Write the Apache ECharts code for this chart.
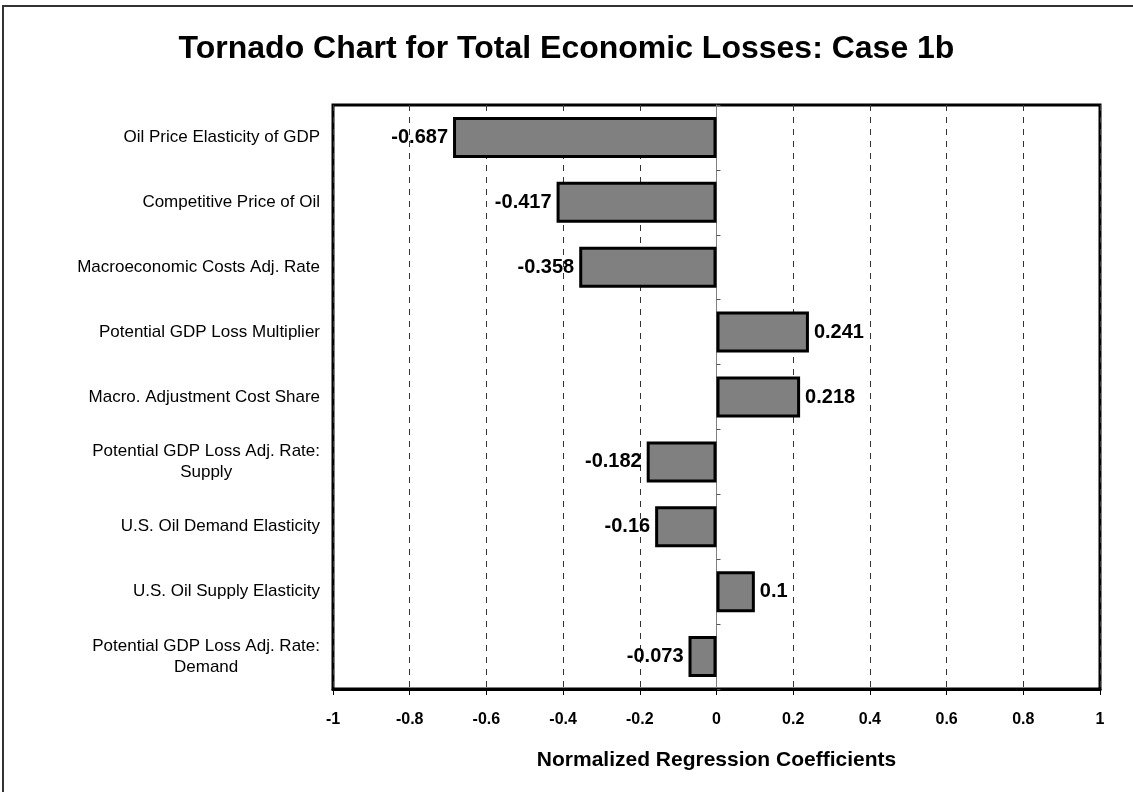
<!DOCTYPE html>
<html>
<head>
<meta charset="utf-8">
<script src="https://cdn.jsdelivr.net/npm/echarts@6/dist/echarts.min.js"></script>
<style>html,body{margin:0;padding:0;background:#fff}#c{width:1133px;height:792px}</style>
</head>
<body>
<div id="c"></div>
<script>
var categories = [
  "Oil Price Elasticity of GDP",
  "Competitive Price of Oil",
  "Macroeconomic Costs Adj. Rate",
  "Potential GDP Loss Multiplier",
  "Macro. Adjustment Cost Share",
  "Potential GDP Loss Adj. Rate:\nSupply",
  "U.S. Oil Demand Elasticity",
  "U.S. Oil Supply Elasticity",
  "Potential GDP Loss Adj. Rate:\nDemand"
];
var values = [-0.687, -0.417, -0.358, 0.241, 0.218, -0.182, -0.16, 0.1, -0.073];
var xTicks = [-1, -0.8, -0.6, -0.4, -0.2, 0, 0.2, 0.4, 0.6, 0.8, 1];

var FONT = '"Liberation Sans", Arial, sans-serif';
var chart = echarts.init(document.getElementById('c'), null, {renderer: 'canvas'});

var seriesData = values.map(function (v) {
  return {
    value: v,
    label: {
      show: true,
      position: v < 0 ? 'left' : 'right',
      distance: 5,
      formatter: function (p) { return String(p.value); },
      fontFamily: FONT, fontWeight: 'bold', fontSize: 20, color: '#000'
    }
  };
});

chart.setOption({
  animation: false,
  backgroundColor: '#fff',
  title: {
    text: 'Tornado Chart for Total Economic Losses: Case 1b',
    left: 'center', top: 28,
    textStyle: {fontFamily: FONT, fontWeight: 'bold', fontSize: 32, color: '#000'}
  },
  graphic: [{
    type: 'rect', silent: true, z: -1,
    shape: {x: 3, y: 6, width: 1160, height: 820},
    style: {fill: 'none', stroke: '#333', lineWidth: 2}
  }],
  grid: {
    left: 333, right: 33, top: 105, bottom: 103,
    show: true, borderColor: '#000', borderWidth: 3, backgroundColor: 'transparent',
    containLabel: false
  },
  xAxis: {
    type: 'value', min: -1, max: 1, interval: 0.2,
    name: 'Normalized Regression Coefficients',
    nameLocation: 'middle', nameGap: 61,
    nameTextStyle: {fontFamily: FONT, fontWeight: 'bold', fontSize: 21, color: '#000'},
    axisLine: {show: true, lineStyle: {color: '#000', width: 3}},
    axisTick: {show: true, length: 6, lineStyle: {color: '#000', width: 1}},
    axisLabel: {
      fontFamily: FONT, fontWeight: 'bold', fontSize: 16, color: '#000', margin: 23,
      formatter: function (v) {
        var r = Math.round(v * 10) / 10;
        for (var i = 0; i < xTicks.length; i++) if (Math.abs(xTicks[i] - r) < 1e-9) return String(xTicks[i]);
        return '';
      }
    },
    splitLine: {show: true, lineStyle: {color: '#333', width: 1, type: [6, 6]}}
  },
  yAxis: [{
    type: 'category', data: categories, inverse: true,
    axisLine: {show: false, onZero: false},
    axisTick: {show: false},
    splitLine: {show: false},
    axisLabel: {
      margin: 13, align: 'right',
      formatter: function (v) {
        return v.split('\n').map(function (s) { return '{c|' + s + '}'; }).join('\n');
      },
      rich: {c: {fontFamily: FONT, fontSize: 17, color: '#000', align: 'center', lineHeight: 21}}
    }
  }, {
    type: 'category', data: categories, inverse: true,
    axisLine: {show: true, onZero: true, lineStyle: {color: '#808080', width: 1}},
    axisTick: {show: true, length: 4, lineStyle: {color: '#555', width: 1}},
    axisLabel: {show: false},
    splitLine: {show: false}
  }],
  series: [{
    type: 'bar', yAxisIndex: 0,
    data: seriesData,
    barWidth: 41,
    itemStyle: {color: '#808080', borderColor: '#000', borderWidth: 3},
    z: 3
  }]
});
</script>
</body>
</html>
